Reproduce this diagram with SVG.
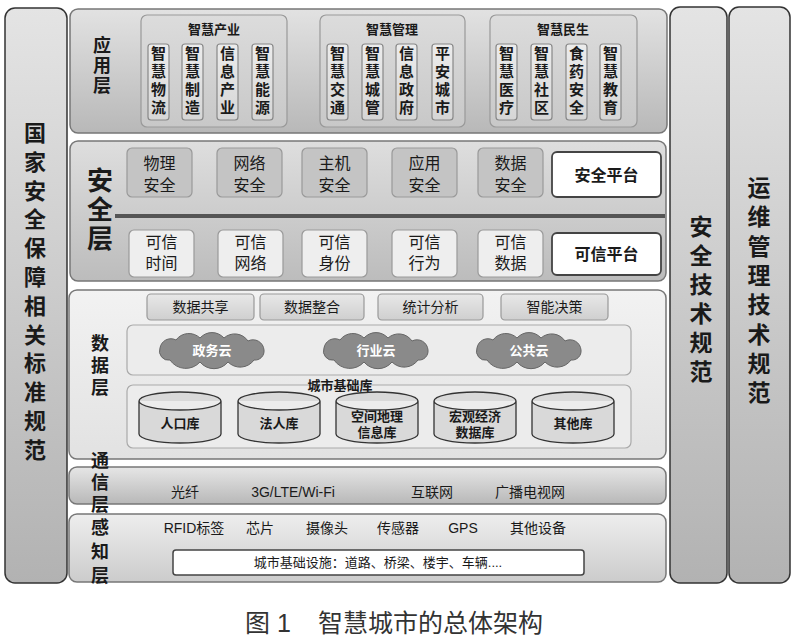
<svg xmlns="http://www.w3.org/2000/svg" width="800" height="639" viewBox="0 0 800 639">
<defs>
<linearGradient id="gCol" x1="0" y1="0" x2="0" y2="1"><stop offset="0" stop-color="#e4e4e4"/><stop offset="1" stop-color="#b2b2b2"/></linearGradient>
<linearGradient id="gApp" x1="0" y1="0" x2="0" y2="1"><stop offset="0" stop-color="#e2e2e2"/><stop offset="1" stop-color="#b8b8b8"/></linearGradient>
<linearGradient id="gSec" x1="0" y1="0" x2="0" y2="1"><stop offset="0" stop-color="#dedede"/><stop offset="1" stop-color="#bcbcbc"/></linearGradient>
<linearGradient id="gData" x1="0" y1="0" x2="0" y2="1"><stop offset="0" stop-color="#f2f2f2"/><stop offset="1" stop-color="#e2e2e2"/></linearGradient>
<linearGradient id="gComm" x1="0" y1="0" x2="0" y2="1"><stop offset="0" stop-color="#e6e6e6"/><stop offset="1" stop-color="#b8b8b8"/></linearGradient>
<linearGradient id="gSens" x1="0" y1="0" x2="0" y2="1"><stop offset="0" stop-color="#eeeeee"/><stop offset="1" stop-color="#cccccc"/></linearGradient>
<linearGradient id="gGrp" x1="0" y1="0" x2="0" y2="1"><stop offset="0" stop-color="#dcdcdc"/><stop offset="1" stop-color="#c8c8c8"/></linearGradient>
<linearGradient id="gItem" x1="0" y1="0" x2="0" y2="1"><stop offset="0" stop-color="#ececec"/><stop offset="1" stop-color="#d6d6d6"/></linearGradient>
<linearGradient id="gFn" x1="0" y1="0" x2="0" y2="1"><stop offset="0" stop-color="#e8e8e8"/><stop offset="1" stop-color="#cfcfcf"/></linearGradient>
<path id="cloud" d="M -42,10 A 9,9 0 0 1 -52,-2 A 11,11 0 0 1 -36,-10 A 16,16 0 0 1 -12,-12 A 16,16 0 0 1 12,-12 A 16,16 0 0 1 36,-9 A 11,11 0 0 1 52,0 A 9,9 0 0 1 42,10 A 17,17 0 0 1 16,12 A 18,18 0 0 1 -12,12 A 19,19 0 0 1 -42,10 Z"/>
</defs>
<style>
text{font-family:"Liberation Sans","Noto Sans CJK SC",sans-serif;fill:#1a1a1a;text-anchor:middle}
.b{font-weight:bold}
.col{stroke:#333;stroke-width:1.5;fill:url(#gCol)}
.layer{stroke:#777;stroke-width:1.5}
.grp{fill:url(#gGrp);stroke:#999;stroke-width:1.2}
.item{fill:url(#gItem);stroke:#888;stroke-width:1.2}
.secA{fill:#c4c4c4;stroke:#999;stroke-width:1.2}
.secB{fill:#eeeeee;stroke:#999;stroke-width:1.2}
.plat{fill:#fff;stroke:#444;stroke-width:1.8}
.fn{fill:url(#gFn);stroke:#999;stroke-width:1.2}
.cont{fill:#ececec;stroke:#aaa;stroke-width:1.2}
.cyl{fill:#d9d9d9;stroke:#333;stroke-width:1.3}
.cld{fill:#8a8a8a;stroke:#666;stroke-width:1}
.ct{fill:#fff;font-weight:bold;font-size:13px}
.vt{font-weight:bold;font-size:15px}
</style>

<!-- side columns -->
<g id="col-left">
<rect class="col" x="5" y="8" width="62" height="575" rx="10"/>
<text class="b" font-size="22" x="35"><tspan x="35" y="141">国</tspan><tspan x="35" dy="28.8">家</tspan><tspan x="35" dy="28.8">安</tspan><tspan x="35" dy="28.8">全</tspan><tspan x="35" dy="28.8">保</tspan><tspan x="35" dy="28.8">障</tspan><tspan x="35" dy="28.8">相</tspan><tspan x="35" dy="28.8">关</tspan><tspan x="35" dy="28.8">标</tspan><tspan x="35" dy="28.8">准</tspan><tspan x="35" dy="28.8">规</tspan><tspan x="35" dy="28.8">范</tspan></text>
</g>
<g id="col-sec">
<rect class="col" x="670" y="7" width="57" height="576" rx="10"/>
<text class="b" font-size="23" x="701"><tspan x="701" y="235">安</tspan><tspan x="701" dy="29">全</tspan><tspan x="701" dy="29">技</tspan><tspan x="701" dy="29">术</tspan><tspan x="701" dy="29">规</tspan><tspan x="701" dy="29">范</tspan></text>
</g>
<g id="col-ops">
<rect class="col" x="729" y="7" width="61" height="576" rx="10"/>
<text class="b" font-size="23" x="759"><tspan x="759" y="196">运</tspan><tspan x="759" dy="29.3">维</tspan><tspan x="759" dy="29.3">管</tspan><tspan x="759" dy="29.3">理</tspan><tspan x="759" dy="29.3">技</tspan><tspan x="759" dy="29.3">术</tspan><tspan x="759" dy="29.3">规</tspan><tspan x="759" dy="29.3">范</tspan></text>
</g>

<!-- application layer -->
<g id="app-layer">
<rect class="layer" x="70" y="9" width="597" height="124" rx="8" fill="url(#gApp)"/>
<text class="b" font-size="18"><tspan x="102" y="52">应</tspan><tspan x="102" dy="20">用</tspan><tspan x="102" dy="20">层</tspan></text>
</g>
<g id="grp-industry">
<rect class="grp" x="141" y="15" width="146" height="112" rx="6"/>
<text class="b" font-size="13" x="214" y="34">智慧产业</text>
<rect class="item" x="148" y="44" width="21" height="76" rx="3"/>
<rect class="item" x="182" y="44" width="21" height="76" rx="3"/>
<rect class="item" x="217" y="44" width="21" height="76" rx="3"/>
<rect class="item" x="252" y="44" width="21" height="76" rx="3"/>
<text class="vt"><tspan x="158.5" y="59">智</tspan><tspan x="158.5" dy="18">慧</tspan><tspan x="158.5" dy="18">物</tspan><tspan x="158.5" dy="18">流</tspan></text>
<text class="vt"><tspan x="192.5" y="59">智</tspan><tspan x="192.5" dy="18">慧</tspan><tspan x="192.5" dy="18">制</tspan><tspan x="192.5" dy="18">造</tspan></text>
<text class="vt"><tspan x="227.5" y="59">信</tspan><tspan x="227.5" dy="18">息</tspan><tspan x="227.5" dy="18">产</tspan><tspan x="227.5" dy="18">业</tspan></text>
<text class="vt"><tspan x="262.5" y="59">智</tspan><tspan x="262.5" dy="18">慧</tspan><tspan x="262.5" dy="18">能</tspan><tspan x="262.5" dy="18">源</tspan></text>
</g>
<g id="grp-manage">
<rect class="grp" x="320" y="15" width="145" height="112" rx="6"/>
<text class="b" font-size="13" x="392" y="34">智慧管理</text>
<rect class="item" x="327" y="44" width="21" height="76" rx="3"/>
<rect class="item" x="362" y="44" width="21" height="76" rx="3"/>
<rect class="item" x="396" y="44" width="21" height="76" rx="3"/>
<rect class="item" x="432" y="44" width="21" height="76" rx="3"/>
<text class="vt"><tspan x="337.5" y="59">智</tspan><tspan x="337.5" dy="18">慧</tspan><tspan x="337.5" dy="18">交</tspan><tspan x="337.5" dy="18">通</tspan></text>
<text class="vt"><tspan x="372.5" y="59">智</tspan><tspan x="372.5" dy="18">慧</tspan><tspan x="372.5" dy="18">城</tspan><tspan x="372.5" dy="18">管</tspan></text>
<text class="vt"><tspan x="406.5" y="59">信</tspan><tspan x="406.5" dy="18">息</tspan><tspan x="406.5" dy="18">政</tspan><tspan x="406.5" dy="18">府</tspan></text>
<text class="vt"><tspan x="442.5" y="59">平</tspan><tspan x="442.5" dy="18">安</tspan><tspan x="442.5" dy="18">城</tspan><tspan x="442.5" dy="18">市</tspan></text>
</g>
<g id="grp-livelihood">
<rect class="grp" x="490" y="15" width="147" height="112" rx="6"/>
<text class="b" font-size="13" x="563" y="34">智慧民生</text>
<rect class="item" x="496" y="44" width="21" height="76" rx="3"/>
<rect class="item" x="531" y="44" width="21" height="76" rx="3"/>
<rect class="item" x="566" y="44" width="21" height="76" rx="3"/>
<rect class="item" x="600" y="44" width="21" height="76" rx="3"/>
<text class="vt"><tspan x="506.5" y="59">智</tspan><tspan x="506.5" dy="18">慧</tspan><tspan x="506.5" dy="18">医</tspan><tspan x="506.5" dy="18">疗</tspan></text>
<text class="vt"><tspan x="541.5" y="59">智</tspan><tspan x="541.5" dy="18">慧</tspan><tspan x="541.5" dy="18">社</tspan><tspan x="541.5" dy="18">区</tspan></text>
<text class="vt"><tspan x="576.5" y="59">食</tspan><tspan x="576.5" dy="18">药</tspan><tspan x="576.5" dy="18">安</tspan><tspan x="576.5" dy="18">全</tspan></text>
<text class="vt"><tspan x="610.5" y="59">智</tspan><tspan x="610.5" dy="18">慧</tspan><tspan x="610.5" dy="18">教</tspan><tspan x="610.5" dy="18">育</tspan></text>
</g>

<!-- security layer -->
<g id="sec-layer">
<rect class="layer" x="70" y="141" width="596" height="140" rx="8" fill="url(#gSec)"/>
<text class="b" font-size="26"><tspan x="100" y="190">安</tspan><tspan x="100" dy="29">全</tspan><tspan x="100" dy="29">层</tspan></text>
<line x1="115" y1="216" x2="665" y2="216" stroke="#555" stroke-width="4"/>
</g>
<g id="sec-top" font-size="16">
<rect class="secA" x="127" y="148" width="65" height="49" rx="5"/>
<rect class="secA" x="217" y="148" width="65" height="49" rx="5"/>
<rect class="secA" x="302" y="148" width="65" height="49" rx="5"/>
<rect class="secA" x="392" y="148" width="65" height="49" rx="5"/>
<rect class="secA" x="478" y="148" width="65" height="49" rx="5"/>
<text><tspan x="159.5" y="169">物理</tspan><tspan x="159.5" y="191">安全</tspan></text>
<text><tspan x="249.5" y="169">网络</tspan><tspan x="249.5" y="191">安全</tspan></text>
<text><tspan x="334.5" y="169">主机</tspan><tspan x="334.5" y="191">安全</tspan></text>
<text><tspan x="424.5" y="169">应用</tspan><tspan x="424.5" y="191">安全</tspan></text>
<text><tspan x="510.5" y="169">数据</tspan><tspan x="510.5" y="191">安全</tspan></text>
</g>
<g id="sec-platform">
<rect class="plat" x="552" y="152" width="109" height="45" rx="5"/>
<text class="b" font-size="16" x="606.5" y="181">安全平台</text>
</g>
<g id="trust-row" font-size="16">
<rect class="secB" x="129" y="230" width="65" height="47" rx="5"/>
<rect class="secB" x="218" y="230" width="65" height="47" rx="5"/>
<rect class="secB" x="302" y="230" width="65" height="47" rx="5"/>
<rect class="secB" x="392" y="230" width="65" height="47" rx="5"/>
<rect class="secB" x="478" y="230" width="65" height="47" rx="5"/>
<text><tspan x="161.5" y="248">可信</tspan><tspan x="161.5" y="269">时间</tspan></text>
<text><tspan x="250.5" y="248">可信</tspan><tspan x="250.5" y="269">网络</tspan></text>
<text><tspan x="334.5" y="248">可信</tspan><tspan x="334.5" y="269">身份</tspan></text>
<text><tspan x="424.5" y="248">可信</tspan><tspan x="424.5" y="269">行为</tspan></text>
<text><tspan x="510.5" y="248">可信</tspan><tspan x="510.5" y="269">数据</tspan></text>
</g>
<g id="trust-platform">
<rect class="plat" x="552" y="233" width="109" height="42" rx="5"/>
<text class="b" font-size="16" x="606.5" y="260">可信平台</text>
</g>

<!-- data layer -->
<g id="data-layer">
<rect class="layer" x="69" y="290" width="597" height="169" rx="8" fill="url(#gData)" stroke="#999"/>
<text class="b" font-size="18"><tspan x="100" y="350">数</tspan><tspan x="100" dy="22">据</tspan><tspan x="100" dy="22">层</tspan></text>
</g>
<g id="data-functions" font-size="14">
<rect class="fn" x="147" y="294" width="107" height="26" rx="4"/>
<rect class="fn" x="260" y="294" width="104" height="26" rx="4"/>
<rect class="fn" x="378" y="294" width="105" height="26" rx="4"/>
<rect class="fn" x="501" y="294" width="107" height="26" rx="4"/>
<text x="200.5" y="312">数据共享</text>
<text x="312" y="312">数据整合</text>
<text x="430.5" y="312">统计分析</text>
<text x="554.5" y="312">智能决策</text>
</g>
<g id="clouds">
<rect class="cont" x="127" y="325" width="504" height="50" rx="6"/>
<use href="#cloud" class="cld" transform="translate(212,350)"/>
<use href="#cloud" class="cld" transform="translate(376,350)"/>
<use href="#cloud" class="cld" transform="translate(529,350)"/>
<text class="ct" x="212" y="355">政务云</text>
<text class="ct" x="376" y="355">行业云</text>
<text class="ct" x="529" y="355">公共云</text>
</g>
<g id="city-db">
<rect class="cont" x="127" y="385" width="504" height="63" rx="6"/>
<path class="cyl" d="M139,401 a41,9 0 0 1 82,0 v33 a41,9 0 0 1 -82,0 z M139,401 a41,9 0 0 0 82,0"/>
<path class="cyl" d="M238,401 a41,9 0 0 1 82,0 v33 a41,9 0 0 1 -82,0 z M238,401 a41,9 0 0 0 82,0"/>
<path class="cyl" d="M336,401 a41,9 0 0 1 82,0 v33 a41,9 0 0 1 -82,0 z M336,401 a41,9 0 0 0 82,0"/>
<path class="cyl" d="M434,401 a41,9 0 0 1 82,0 v33 a41,9 0 0 1 -82,0 z M434,401 a41,9 0 0 0 82,0"/>
<path class="cyl" d="M532,401 a41,9 0 0 1 82,0 v33 a41,9 0 0 1 -82,0 z M532,401 a41,9 0 0 0 82,0"/>
<text class="b" font-size="13" x="340" y="390">城市基础库</text>
<g class="b" font-size="13">
<text x="180" y="428">人口库</text>
<text x="279" y="428">法人库</text>
<text x="377" y="421">空间地理</text>
<text x="377" y="437">信息库</text>
<text x="475" y="421">宏观经济</text>
<text x="475" y="437">数据库</text>
<text x="573" y="428">其他库</text>
</g>
</g>

<!-- communication layer -->
<g id="comm-layer">
<rect class="layer" x="69" y="467" width="597" height="37" rx="8" fill="url(#gComm)"/>
<text class="b" font-size="18"><tspan x="100" y="467">通</tspan><tspan x="100" dy="22">信</tspan><tspan x="100" dy="22">层</tspan></text>
<g font-size="14">
<text x="185" y="497">光纤</text>
<text x="293" y="497">3G/LTE/Wi-Fi</text>
<text x="432" y="497">互联网</text>
<text x="530" y="497">广播电视网</text>
</g>
</g>

<!-- sensing layer -->
<g id="sense-layer">
<rect class="layer" x="69" y="514" width="597" height="68" rx="8" fill="url(#gSens)"/>
<text class="b" font-size="18"><tspan x="100" y="534">感</tspan><tspan x="100" dy="24">知</tspan><tspan x="100" dy="24">层</tspan></text>
<g font-size="14">
<text x="194" y="533">RFID标签</text>
<text x="260" y="533">芯片</text>
<text x="327" y="533">摄像头</text>
<text x="398" y="533">传感器</text>
<text x="463" y="533">GPS</text>
<text x="538" y="533">其他设备</text>
</g>
</g>
<g id="infra">
<rect x="173" y="550" width="411" height="25" rx="3" fill="#fff" stroke="#444" stroke-width="1.5"/>
<text font-size="13" x="378" y="567">城市基础设施：道路、桥梁、楼宇、车辆....</text>
</g>

<!-- caption -->
<text x="245" y="632" font-size="25" fill="#333" style="text-anchor:start;fill:#333">图 1</text>
<text x="318" y="632" font-size="25" style="text-anchor:start;fill:#333">智慧城市的总体架构</text>
</svg>
